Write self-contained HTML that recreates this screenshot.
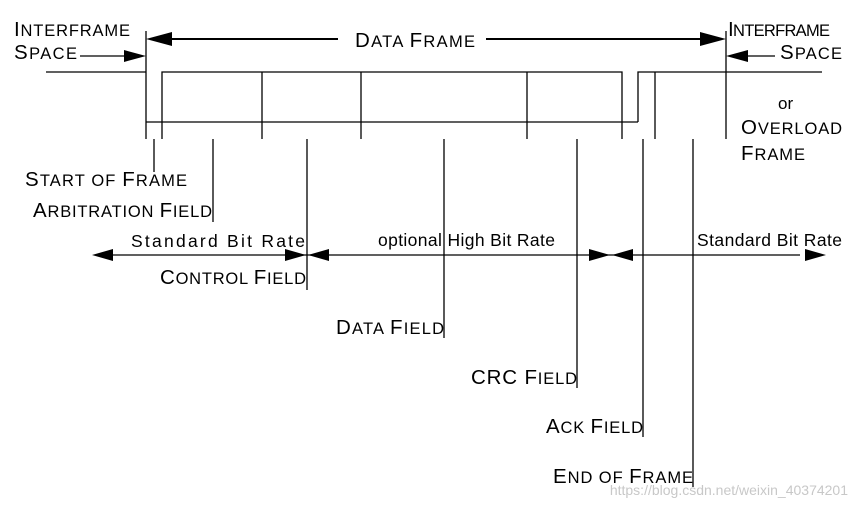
<!DOCTYPE html>
<html><head><meta charset="utf-8"><style>
html,body{margin:0;padding:0;background:#fff;}
svg{display:block;}
text{font-family:"Liberation Sans",sans-serif;fill:#000;}
.l{font-size:16.5px;}
.l tspan.c{font-size:20.5px;}
.s{font-size:17.5px;}
</style></head><body>
<svg width="857" height="507" viewBox="0 0 857 507" xmlns="http://www.w3.org/2000/svg">
<g stroke="#000" stroke-width="1.3" fill="none">
<line x1="146" y1="31" x2="146" y2="139"/>
<line x1="726" y1="31" x2="726" y2="139"/>
<line x1="46" y1="72" x2="146" y2="72"/>
<polyline points="162,139 162,72 622,72 622,139"/>
<line x1="146" y1="122" x2="638" y2="122"/>
<polyline points="638,122 638,72 822,72"/>
<line x1="262" y1="72" x2="262" y2="139"/>
<line x1="361" y1="72" x2="361" y2="139"/>
<line x1="527" y1="72" x2="527" y2="139"/>
<line x1="655" y1="72" x2="655" y2="139"/>
<line x1="154" y1="139" x2="154" y2="172"/>
<line x1="213" y1="139" x2="213" y2="222"/>
<line x1="307" y1="139" x2="307" y2="290"/>
<line x1="444" y1="139" x2="444" y2="338"/>
<line x1="577" y1="139" x2="577" y2="388"/>
<line x1="643" y1="139" x2="643" y2="437"/>
<line x1="693" y1="139" x2="693" y2="487"/>
<line x1="166" y1="39" x2="338" y2="39" stroke-width="2"/>
<line x1="486" y1="39" x2="706" y2="39" stroke-width="2"/>
<line x1="80" y1="56" x2="126" y2="56"/>
<line x1="744" y1="56" x2="775" y2="56"/>
<line x1="110" y1="255" x2="800" y2="255"/>
</g>
<g fill="#000">
<polygon points="146,39 172,32 172,46"/>
<polygon points="726,39 700,32 700,46"/>
<polygon points="146,56 124,50 124,62"/>
<polygon points="726,56 748,50 748,62"/>
<polygon points="92,255 113,249 113,261"/>
<polygon points="306,255 285,249 285,261"/>
<polygon points="308,255 329,249 329,261"/>
<polygon points="610,255 589,249 589,261"/>
<polygon points="612,255 633,249 633,261"/>
<polygon points="826,255 805,249 805,261"/>
</g>
<text class="l" x="14" y="36" textLength="116"><tspan class="c">I</tspan>NTERFRAME</text>
<text class="l" x="14" y="59" textLength="63"><tspan class="c">S</tspan>PACE</text>
<text class="l" x="355" y="47" textLength="120"><tspan class="c">D</tspan>ATA <tspan class="c">F</tspan>RAME</text>
<text class="l" x="728" y="36" textLength="102"><tspan class="c">I</tspan>NTERFRAME</text>
<text class="l" x="780" y="59" textLength="62"><tspan class="c">S</tspan>PACE</text>
<text x="778" y="109" style="font-size:17px">or</text>
<text class="l" x="741" y="134" textLength="101"><tspan class="c">O</tspan>VERLOAD</text>
<text class="l" x="741" y="160" textLength="64"><tspan class="c">F</tspan>RAME</text>
<text class="l" x="25" y="186" textLength="162"><tspan class="c">S</tspan>TART OF <tspan class="c">F</tspan>RAME</text>
<text class="l" x="33" y="217" textLength="179"><tspan class="c">A</tspan>RBITRATION <tspan class="c">F</tspan>IELD</text>
<text class="s" x="131" y="247" textLength="174">Standard Bit Rate</text>
<text class="s" x="378" y="246" textLength="177">optional High Bit Rate</text>
<text class="s" x="697" y="246" textLength="145">Standard Bit Rate</text>
<text class="l" x="160" y="284" textLength="146"><tspan class="c">C</tspan>ONTROL <tspan class="c">F</tspan>IELD</text>
<text class="l" x="336" y="334" textLength="108"><tspan class="c">D</tspan>ATA <tspan class="c">F</tspan>IELD</text>
<text class="l" x="471" y="384" textLength="106"><tspan class="c">CRC F</tspan>IELD</text>
<text class="l" x="546" y="433" textLength="97"><tspan class="c">A</tspan>CK <tspan class="c">F</tspan>IELD</text>
<text class="l" x="553" y="483" textLength="140"><tspan class="c">E</tspan>ND OF <tspan class="c">F</tspan>RAME</text>
<text x="848" y="495" text-anchor="end" style="font-size:14px;fill:#c8c8c8">https://blog.csdn.net/weixin_40374201</text>
</svg>
</body></html>
